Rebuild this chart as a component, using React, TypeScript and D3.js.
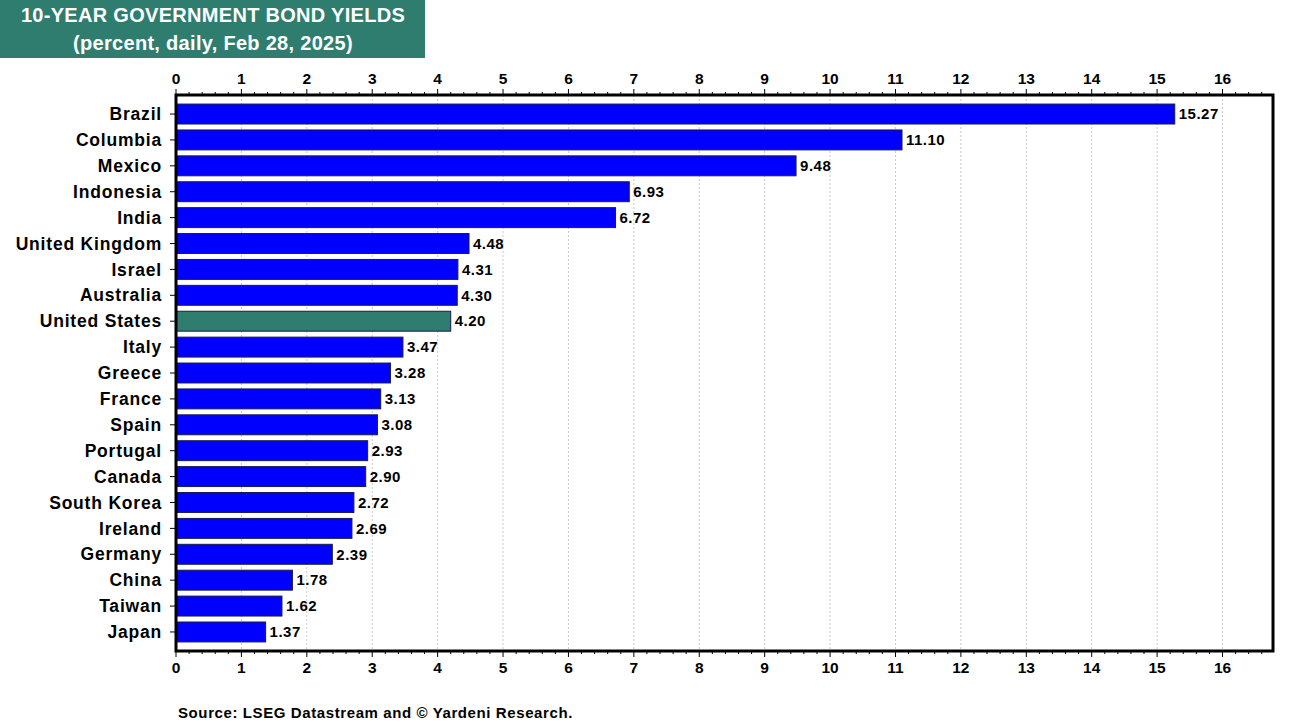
import React from "react";
import * as d3 from "d3";

const countries = ["Brazil","Columbia","Mexico","Indonesia","India","United Kingdom","Israel","Australia","United States","Italy","Greece","France","Spain","Portugal","Canada","South Korea","Ireland","Germany","China","Taiwan","Japan"];
const yields = [15.27,11.10,9.48,6.93,6.72,4.48,4.31,4.30,4.20,3.47,3.28,3.13,3.08,2.93,2.90,2.72,2.69,2.39,1.78,1.62,1.37];
const xTicks = d3.range(0, 17);
const highlight = "United States";

const W = 1292, H = 724;
const L = 176, R = 1273, T = 95, B = 651;
const FONT = "Liberation Sans, Arial, sans-serif";

export default function App() {
  const x = d3.scaleLinear().domain([0, 16]).range([L, 1222.5]);
  const y = d3.scaleBand<string>().domain(countries).range([T, B]).paddingInner(0.23).paddingOuter(0.35);
  const minor = d3.range(0, 16.8, 0.2);
  return (
    <svg width={W} height={H} style={{ position: "absolute", left: 0, top: 0, fontFamily: FONT }}>
      <rect x={0} y={0} width={W} height={H} fill="#fff" />
      <rect x={0} y={0} width={425} height={58} fill="#2e7d6f" />
      <text x={213} y={22} textAnchor="middle" fill="#fff" fontWeight="bold" fontSize={20} letterSpacing={0.3}>10-YEAR GOVERNMENT BOND YIELDS</text>
      <text x={213} y={50} textAnchor="middle" fill="#fff" fontWeight="bold" fontSize={20} letterSpacing={0.3}>(percent, daily, Feb 28, 2025)</text>
      {xTicks.map(t => (
        <line key={"g" + t} x1={x(t)} x2={x(t)} y1={T} y2={B} stroke="#c8c8c8" strokeDasharray="2,2" strokeWidth={1} />
      ))}
      {countries.map((c, i) => (
        <g key={c}>
          <rect x={x(0)} y={y(c)} width={x(yields[i]) - x(0)} height={y.bandwidth()}
            fill={c === highlight ? "#2e7d6f" : "#0000ff"} stroke="#1a1a4a" strokeWidth={1} />
          <text x={x(yields[i]) + 4} y={(y(c) as number) + y.bandwidth() / 2} dy="0.35em" fontSize={15} letterSpacing={0.5} fontWeight="bold" fill="#000">{yields[i].toFixed(2)}</text>
          <text x={162} y={(y(c) as number) + y.bandwidth() / 2} dy="0.35em" textAnchor="end" fontSize={17.5} letterSpacing={0.8} fontWeight="bold" fill="#000">{c}</text>
          <line x1={L - 6} x2={L} y1={(y(c) as number) + y.bandwidth() / 2} y2={(y(c) as number) + y.bandwidth() / 2} stroke="#000" strokeWidth={1} />
        </g>
      ))}
      {minor.map((m, i) => {
        const major = Math.abs(m - Math.round(m)) < 1e-6;
        const len = major ? 6 : 3;
        return (
          <g key={"m" + i}>
            <line x1={x(m)} x2={x(m)} y1={T} y2={T - len} stroke="#000" strokeWidth={1} />
            <line x1={x(m)} x2={x(m)} y1={B} y2={B + len} stroke="#000" strokeWidth={1} />
          </g>
        );
      })}
      {xTicks.map(t => (
        <g key={"t" + t}>
          <text x={x(t)} y={84} textAnchor="middle" fontSize={15.5} fontWeight="bold">{t}</text>
          <text x={x(t)} y={673} textAnchor="middle" fontSize={15.5} fontWeight="bold">{t}</text>
        </g>
      ))}
      <rect x={L} y={T} width={R - L} height={B - T} fill="none" stroke="#000" strokeWidth={3} />
      <text x={178} y={718} fontSize={15} letterSpacing={0.6} fontWeight="bold">Source: LSEG Datastream and © Yardeni Research.</text>
    </svg>
  );
}
